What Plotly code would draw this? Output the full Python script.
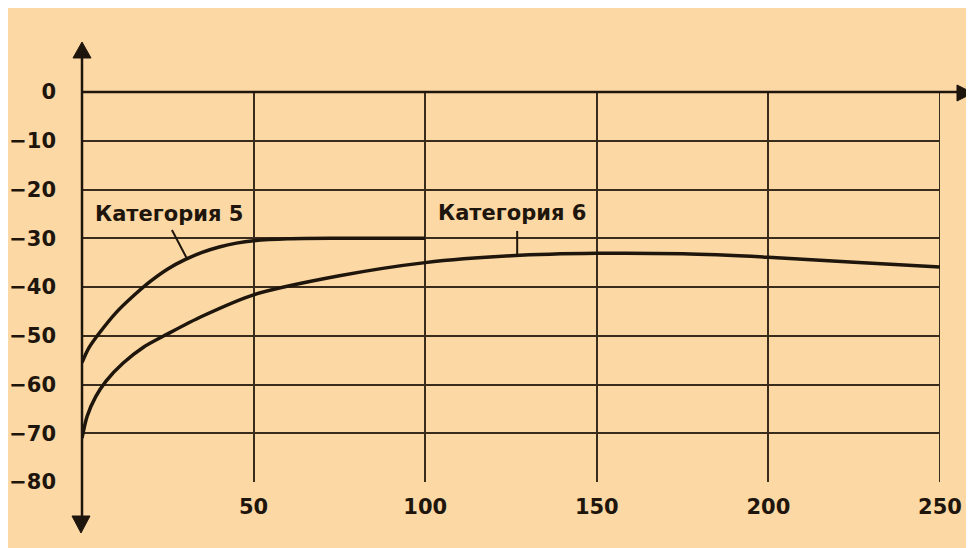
import plotly.graph_objects as go

# ---- data ----
cat5_x = [0, 2, 5, 10, 15, 20, 25, 30, 35, 40, 45, 50, 60, 75, 100]
cat5_y = [-55.5, -52.5, -49.5, -45.2, -41.8, -38.8, -36.3, -34.4, -32.9, -31.8, -31.0, -30.5, -30.1, -30.0, -30.0]

cat6_x = [0, 1.5, 4, 7, 12, 18, 25, 35, 50, 75, 100, 125, 150, 175, 200, 225, 250]
cat6_y = [-71, -66.5, -62.5, -59.3, -55.6, -52.3, -49.6, -46.0, -41.6, -37.7, -35.0, -33.6, -33.1, -33.2, -33.9, -34.9, -35.9]

x_ticks = [0, 50, 100, 150, 200, 250]
x_labels = ["", "50", "100", "150", "200", "250"]
y_ticks = [0, -10, -20, -30, -40, -50, -60, -70, -80]
y_labels = ["0", "−10", "−20", "−30", "−40", "−50", "−60", "−70", "−80"]

label5 = "Категория 5"
label6 = "Категория 6"

# ---- styling ----
INK = "#1e150c"
GRID = "#3a2c1c"
PEACH = "#fcd8a4"
FONT = "DejaVu Sans"

OFF = 8  # page body margin
W, H = 974 - OFF, 548 - OFF
L, R, T, B = 82 - OFF, 940 - OFF, 92 - OFF, 482 - OFF  # plot area in figure pixels

def px(p):
    # p in screenshot pixels
    return (p - OFF - L) / (R - L)

def py(p):
    return (B - (p - OFF)) / (B - T)

fig = go.Figure()
fig.add_trace(go.Scatter(x=cat5_x, y=cat5_y, mode="lines", line=dict(color=INK, width=3.5, shape="spline", smoothing=0.8),
                         name=label5, showlegend=False, hoverinfo="skip"))
fig.add_trace(go.Scatter(x=cat6_x, y=cat6_y, mode="lines", line=dict(color=INK, width=3.5, shape="spline", smoothing=0.8),
                         name=label6, showlegend=False, hoverinfo="skip"))

shapes = []
# right border grid line at x = 250
shapes.append(dict(type="line", xref="x", yref="paper", x0=x_ticks[-1], x1=x_ticks[-1], y0=0, y1=1,
                   line=dict(color=GRID, width=2), layer="below"))
# axes lines
shapes.append(dict(type="line", xref="paper", yref="paper", x0=px(82), x1=px(82), y0=py(520), y1=py(52),
                   line=dict(color=INK, width=2.5)))
shapes.append(dict(type="line", xref="paper", yref="paper", x0=px(82), x1=px(962), y0=py(92), y1=py(92),
                   line=dict(color=INK, width=2.5)))
# arrowheads
def tri(pts):
    return "M " + " L ".join(f"{px(a):.5f},{py(b):.5f}" for a, b in pts) + " Z"
shapes.append(dict(type="path", xref="paper", yref="paper", path=tri([(82, 42), (73, 58), (91, 58)]),
                   fillcolor=INK, line=dict(color=INK, width=1)))
shapes.append(dict(type="path", xref="paper", yref="paper", path=tri([(81, 533), (72, 516), (90, 516)]),
                   fillcolor=INK, line=dict(color=INK, width=1)))
shapes.append(dict(type="path", xref="paper", yref="paper", path=tri([(973, 93), (957, 85), (957, 101)]),
                   fillcolor=INK, line=dict(color=INK, width=1)))
# leader lines for labels
shapes.append(dict(type="line", xref="x", yref="y", x0=26.2, y0=-28.3, x1=30.6, y1=-34.2,
                   line=dict(color=INK, width=2)))
shapes.append(dict(type="line", xref="x", yref="y", x0=126.8, y0=-28.5, x1=126.8, y1=-33.4,
                   line=dict(color=INK, width=2)))

annotations = [
    dict(x=25.4, y=-25.0, xref="x", yref="y", text=label5, showarrow=False,
         font=dict(family=FONT, size=21, color=INK, weight="bold")),
    dict(x=125.3, y=-24.8, xref="x", yref="y", text=label6, showarrow=False,
         font=dict(family=FONT, size=21, color=INK, weight="bold")),
]

fig.update_layout(
    width=W, height=H, autosize=False,
    margin=dict(l=L, r=W - R, t=T, b=H - B, pad=0),
    paper_bgcolor=PEACH, plot_bgcolor="rgba(0,0,0,0)",
    shapes=shapes, annotations=annotations,
    font=dict(family=FONT, size=21, color=INK, weight="bold"),
    xaxis=dict(range=[0, 250], tickvals=x_ticks, ticktext=x_labels, showgrid=True, gridcolor=GRID, gridwidth=2,
               zeroline=False, showline=False, ticks="", ticklabelstandoff=10, fixedrange=True, automargin=False),
    yaxis=dict(range=[-80, 0], tickvals=y_ticks, ticktext=y_labels, showgrid=True, gridcolor=GRID, gridwidth=2,
               zeroline=False, showline=False, ticks="", ticklabelstandoff=25, fixedrange=True, automargin=False),
)

fig.write_html("out.html", config=dict(displayModeBar=False))
